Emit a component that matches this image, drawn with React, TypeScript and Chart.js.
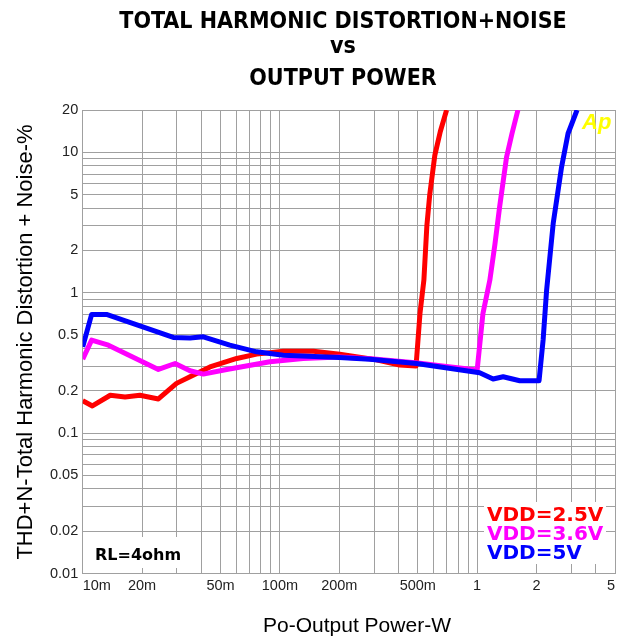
import React, { useEffect, useRef } from 'react';
import { Chart, registerables } from 'chart.js';

Chart.register(...registerables);

// ---- text ----
const TITLE_LINES = ['TOTAL HARMONIC DISTORTION+NOISE', 'vs', 'OUTPUT POWER'];
const X_TITLE = 'Po-Output Power-W';
const Y_TITLE = 'THD+N-Total Harmonic Distortion + Noise-%';
const RL_NOTE = 'RL=4ohm';
const LOGO = 'Ap';

// ---- axes ----
const X_MIN = 0.01;
const X_MAX = 5;
const Y_MIN = 0.01;
const Y_MAX = 20;
const X_LABEL_VALUES = [0.01, 0.02, 0.05, 0.1, 0.2, 0.5, 1, 2, 5];
const X_LABEL_TEXT = ['10m', '20m', '50m', '100m', '200m', '500m', '1', '2', '5'];
const Y_LABEL_VALUES = [0.01, 0.02, 0.05, 0.1, 0.2, 0.5, 1, 2, 5, 10, 20];
const Y_LABEL_TEXT = ['0.01', '0.02', '0.05', '0.1', '0.2', '0.5', '1', '2', '5', '10', '20'];

// ---- series ----
const SERIES_NAMES = ['VDD=2.5V', 'VDD=3.6V', 'VDD=5V'];
const SERIES_COLORS = ['#ff0000', '#ff00ff', '#0000ff'];

const RED_X = [0.01, 0.0112, 0.0138, 0.0164, 0.0195, 0.0242, 0.0299, 0.035, 0.0442, 0.0604, 0.0762, 0.104, 0.148, 0.201, 0.3, 0.405, 0.49, 0.513, 0.537, 0.556, 0.575, 0.61, 0.65, 0.70];
const RED_Y = [0.170, 0.156, 0.186, 0.181, 0.186, 0.175, 0.226, 0.252, 0.296, 0.340, 0.365, 0.383, 0.383, 0.365, 0.335, 0.305, 0.30, 0.71, 1.23, 3.0, 5.0, 9.5, 14, 20];

const MAG_X = [0.01, 0.0111, 0.0135, 0.0242, 0.0294, 0.035, 0.0409, 0.0537, 0.089, 0.131, 0.2, 0.3, 0.5, 0.7, 1.0, 1.07, 1.16, 1.23, 1.30, 1.41, 1.5, 1.61];
const MAG_Y = [0.336, 0.459, 0.423, 0.284, 0.313, 0.278, 0.263, 0.284, 0.322, 0.340, 0.348, 0.337, 0.316, 0.298, 0.281, 0.711, 1.23, 2.2, 4.08, 9.26, 13.5, 20];

const BLUE_X = [0.01, 0.0111, 0.0132, 0.0288, 0.035, 0.0409, 0.0557, 0.0762, 0.104, 0.2, 0.286, 0.493, 1.03, 1.205, 1.355, 1.645, 2.06, 2.16, 2.25, 2.43, 2.68, 2.89, 3.21];
const BLUE_Y = [0.411, 0.70, 0.70, 0.48, 0.475, 0.485, 0.423, 0.379, 0.359, 0.346, 0.336, 0.313, 0.269, 0.243, 0.252, 0.236, 0.236, 0.46, 1.04, 3.11, 7.86, 13.6, 20];

const SERIES_X = [RED_X, MAG_X, BLUE_X];
const SERIES_Y = [RED_Y, MAG_Y, BLUE_Y];

function logGrid(min: number, max: number): number[] {
  const out: number[] = [];
  const d0 = Math.floor(Math.log10(min));
  const d1 = Math.ceil(Math.log10(max));
  for (let d = d0; d <= d1; d++) {
    for (let m = 1; m <= 9; m++) {
      const v = Number((m * Math.pow(10, d)).toPrecision(6));
      if (v >= min * (1 - 1e-9) && v <= max * (1 + 1e-9)) out.push(v);
    }
  }
  return out;
}

function labelFor(values: number[], texts: string[], v: number): string {
  for (let i = 0; i < values.length; i++) {
    if (Math.abs(v / values[i] - 1) < 1e-6) return texts[i];
  }
  return '';
}

const GRID = '#a0a0a0';
const TICK_FONT = { family: '"Liberation Sans", Arial, sans-serif', size: 14.5 };

const overlayPlugin = {
  id: 'overlayText',
  afterDraw(chart: any) {
    const ctx = chart.ctx as CanvasRenderingContext2D;
    ctx.save();
    // title
    ctx.fillStyle = '#000';
    ctx.textAlign = 'center';
    ctx.textBaseline = 'alphabetic';
    ctx.font = 'bold 23px "DejaVu Sans Condensed", "DejaVu Sans", sans-serif';
    const tb = [28, 53, 85];
    TITLE_LINES.forEach((t, i) => ctx.fillText(t, 343, tb[i]));

    // x title
    ctx.font = '21px "Liberation Sans", Arial, sans-serif';
    ctx.fillText(X_TITLE, 357, 632);

    // y title
    ctx.save();
    ctx.translate(32, 342);
    ctx.rotate(-Math.PI / 2);
    ctx.font = '22px "Liberation Sans", Arial, sans-serif';
    ctx.fillText(Y_TITLE, 0, 0);
    ctx.restore();

    // RL box
    ctx.fillStyle = '#fff';
    ctx.fillRect(88, 537, 97, 31);
    ctx.fillStyle = '#000';
    ctx.textAlign = 'left';
    ctx.font = 'bold 16px "DejaVu Sans", sans-serif';
    ctx.fillText(RL_NOTE, 95, 560);

    // legend box
    ctx.fillStyle = '#fff';
    ctx.fillRect(484, 502, 122, 62);
    ctx.font = 'bold 20px "DejaVu Sans", sans-serif';
    const lb = [521, 540, 559];
    SERIES_NAMES.forEach((n, i) => {
      ctx.fillStyle = SERIES_COLORS[i];
      ctx.fillText(n, 487, lb[i]);
    });

    // logo
    ctx.fillStyle = '#ffff00';
    ctx.font = 'italic bold 22px "Liberation Sans", Arial, sans-serif';
    ctx.fillText(LOGO, 582, 129);
    ctx.restore();
  },
};

export default function App() {
  const ref = useRef<HTMLCanvasElement>(null);

  useEffect(() => {
    if (!ref.current) return;
    const datasets = SERIES_NAMES.map((name, i) => ({
      label: name,
      data: SERIES_X[i].map((x, j) => ({ x, y: SERIES_Y[i][j] })),
      borderColor: SERIES_COLORS[i],
      backgroundColor: SERIES_COLORS[i],
      borderWidth: 5,
      pointRadius: 0,
      tension: 0,
      fill: false,
      showLine: true,
      borderJoinStyle: 'round' as const,
      clip: 0,
      order: 2 - i,
    }));

    const chart = new Chart(ref.current, {
      type: 'line',
      data: { datasets },
      options: {
        animation: false,
        responsive: false,
        devicePixelRatio: 1,
        layout: { padding: { left: 0, top: 110, right: 3.5, bottom: 0 } },
        plugins: {
          legend: { display: false },
          title: { display: false },
          tooltip: { enabled: false },
        },
        scales: {
          x: {
            type: 'logarithmic',
            min: X_MIN,
            max: X_MAX,
            afterBuildTicks: (s: any) => {
              s.ticks = logGrid(X_MIN, X_MAX).map((v) => ({ value: v }));
            },
            afterFit: (s: any) => {
              s.height = 70.5;
            },
            grid: { color: GRID, lineWidth: 1, drawTicks: false },
            border: { color: GRID, width: 1 },
            ticks: {
              autoSkip: false,
              maxRotation: 0,
              minRotation: 0,
              align: 'inner',
              padding: 4,
              color: '#222',
              font: TICK_FONT,
              callback: (v: any) => labelFor(X_LABEL_VALUES, X_LABEL_TEXT, Number(v)),
            },
          },
          y: {
            type: 'logarithmic',
            min: Y_MIN,
            max: Y_MAX,
            afterBuildTicks: (s: any) => {
              s.ticks = logGrid(Y_MIN, Y_MAX).map((v) => ({ value: v }));
            },
            afterFit: (s: any) => {
              s.width = 82.7;
            },
            grid: { color: GRID, lineWidth: 1, drawTicks: false },
            border: { color: GRID, width: 1 },
            ticks: {
              autoSkip: false,
              padding: 4.5,
              color: '#222',
              font: TICK_FONT,
              callback: (v: any) => labelFor(Y_LABEL_VALUES, Y_LABEL_TEXT, Number(v)),
            },
          },
        },
      } as any,
      plugins: [overlayPlugin],
    });
    return () => chart.destroy();
  }, []);

  return (
    <div style={{ position: 'fixed', left: 0, top: 0, width: 619, height: 644, background: '#fff' }}>
      <canvas ref={ref} width={619} height={644} style={{ display: 'block', width: 619, height: 644 }} />
    </div>
  );
}
